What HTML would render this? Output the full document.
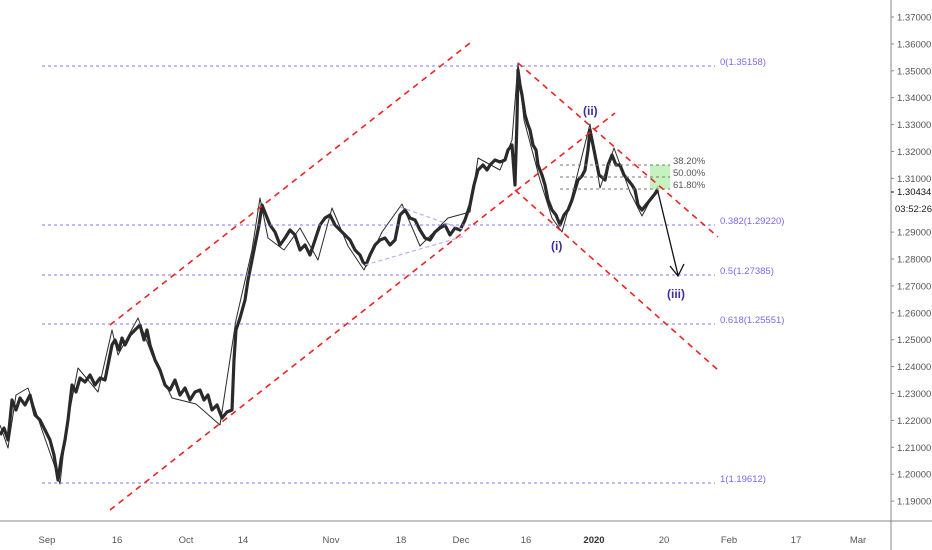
<!DOCTYPE html><html><head><meta charset="utf-8"><style>
body{margin:0;background:#fff;}
svg{display:block;font-family:"Liberation Sans",sans-serif;}
</style></head><body>
<svg width="932" height="550" viewBox="0 0 932 550" xmlns="http://www.w3.org/2000/svg">
<rect width="932" height="550" fill="#fff"/>
<!-- price series -->
<g fill="none" stroke="#2a2a2a" stroke-linejoin="round">
<polyline stroke-width="3.2" points="0,435 4,428 8,440 12,400 16,410 20,398 25,405 30,395 35,415 40,420 45,430 50,440 54,455 58,480 61,460 65,440 68,420 72,385 76,392 80,378 85,382 90,375 95,385 100,378 105,380 109,360 112,345 115,340 119,350 122,338 125,345 130,335 135,330 140,325 144,340 147,330 150,345 155,360 160,370 165,385 170,390 175,380 180,395 185,388 190,400 195,392 200,390 204,400 208,395 212,410 217,405 222,418 227,412 232,410 234,360 236,330 240,318 245,300 248,280 252,260 256,240 259,225 262,205 266,215 270,225 275,232 280,245 285,238 290,230 295,235 300,250 305,245 310,255 315,240 320,225 325,218 330,215 335,225 340,230 345,235 350,240 355,250 360,255 363,262 366,265 370,255 375,245 380,240 385,238 390,245 395,240 400,215 405,210 410,218 415,220 420,230 425,238 430,240 435,232 440,228 445,225 450,235 455,228 460,230 465,220 470,205 474,185 478,170 483,165 487,170 490,165 495,160 500,162 505,160 508,150 512,145 515,185 517,120 518,70 520,85 522,95 525,115 528,125 530,130 533,145 536,150 538,165 542,175 545,185 548,200 552,210 556,215 560,225 564,215 568,210 572,200 575,190 578,180 582,176 585,170 588,150 590,130 593,145 595,155 599,175 603,178 605,180 608,165 612,155 616,165 620,165 624,175 628,180 632,185 635,190 638,205 642,210 646,205 650,200 654,195 658,190"/>
<polyline stroke-width="1" points="0,425 8,448 16,395 28,388 42,430 56,470 60,484 66,430 78,368 98,392 112,330 118,355 138,318 152,355 172,398 196,404 220,425 236,320 252,250 260,198 268,238 284,250 300,228 318,260 332,208 348,246 364,270 382,232 402,204 420,246 448,218 470,212 478,158 500,170 512,140 518,63 524,120 540,180 552,218 562,232 572,196 590,124 600,188 614,148 630,192 642,216 658,186"/>
</g>
<!-- fib horizontals -->
<g stroke="#7b68ee" stroke-width="1" stroke-dasharray="3,3" opacity="0.9">
<line x1="42" y1="66" x2="715" y2="66"/>
<line x1="42" y1="225" x2="715" y2="225"/>
<line x1="42" y1="275" x2="715" y2="275"/>
<line x1="42" y1="324" x2="715" y2="324"/>
<line x1="42" y1="483" x2="715" y2="483"/>
</g>
<g fill="#7b68ee" font-size="9.5">
<text x="720" y="65">0(1.35158)</text>
<text x="720" y="224">0.382(1.29220)</text>
<text x="720" y="274">0.5(1.27385)</text>
<text x="720" y="323">0.618(1.25551)</text>
<text x="720" y="482">1(1.19612)</text>
</g>
<g stroke="#b9b0ee" stroke-width="1.2" stroke-dasharray="4,3">
<line x1="400" y1="207" x2="465" y2="230"/>
<line x1="365" y1="265" x2="465" y2="236"/>
</g>
<rect x="650" y="165" width="20" height="24" fill="#b7f0b0" opacity="0.8"/>
<g stroke="#777" stroke-width="1" stroke-dasharray="3,3">
<line x1="560" y1="165" x2="670" y2="165"/>
<line x1="560" y1="177" x2="670" y2="177"/>
<line x1="560" y1="189" x2="670" y2="189"/>
</g>
<g fill="#555" font-size="9.5">
<text x="673" y="164">38.20%</text>
<text x="673" y="176">50.00%</text>
<text x="673" y="188">61.80%</text>
</g>
<g stroke="#ee2222" stroke-width="1.6" stroke-dasharray="6,5">
<line x1="110" y1="325" x2="470" y2="43"/>
<line x1="110" y1="510" x2="615" y2="113"/>
<line x1="518" y1="63" x2="718" y2="237"/>
<line x1="515" y1="190" x2="718" y2="370"/>
</g>
<g stroke="#111" stroke-width="1.3" fill="none">
<line x1="658" y1="192" x2="678" y2="275"/>
<polyline points="670,266 678,276 684,264"/>
</g>
<g fill="#3b2f9e" font-size="12" font-weight="bold">
<text x="551" y="250">(i)</text>
<text x="583" y="115">(ii)</text>
<text x="667" y="298">(iii)</text>
</g>
<line x1="891" y1="0" x2="891" y2="550" stroke="#888"/>
<line x1="0" y1="521" x2="932" y2="521" stroke="#888"/>
<g font-size="9.5" fill="#555">
<text x="897" y="20.5">1.37000</text><text x="897" y="47.4">1.36000</text><text x="897" y="74.3">1.35000</text>
<text x="897" y="101.2">1.34000</text><text x="897" y="128.1">1.33000</text><text x="897" y="155">1.32000</text>
<text x="897" y="181.9">1.31000</text><text x="897" y="235.6">1.29000</text><text x="897" y="262.5">1.28000</text>
<text x="897" y="289.4">1.27000</text><text x="897" y="316.3">1.26000</text><text x="897" y="343.2">1.25000</text>
<text x="897" y="370.1">1.24000</text><text x="897" y="397">1.23000</text><text x="897" y="423.9">1.22000</text>
<text x="897" y="450.8">1.21000</text><text x="897" y="477.7">1.20000</text><text x="897" y="504.6">1.19000</text>
</g>
<g stroke="#888">
<line x1="891" x2="894" y1="17" y2="17"/><line x1="891" x2="894" y1="43.9" y2="43.9"/><line x1="891" x2="894" y1="70.8" y2="70.8"/>
<line x1="891" x2="894" y1="97.7" y2="97.7"/><line x1="891" x2="894" y1="124.6" y2="124.6"/><line x1="891" x2="894" y1="151.5" y2="151.5"/>
<line x1="891" x2="894" y1="178.4" y2="178.4"/><line x1="891" x2="894" y1="232.1" y2="232.1"/><line x1="891" x2="894" y1="259" y2="259"/>
<line x1="891" x2="894" y1="285.9" y2="285.9"/><line x1="891" x2="894" y1="312.8" y2="312.8"/><line x1="891" x2="894" y1="339.7" y2="339.7"/>
<line x1="891" x2="894" y1="366.6" y2="366.6"/><line x1="891" x2="894" y1="393.5" y2="393.5"/><line x1="891" x2="894" y1="420.4" y2="420.4"/>
<line x1="891" x2="894" y1="447.3" y2="447.3"/><line x1="891" x2="894" y1="474.2" y2="474.2"/><line x1="891" x2="894" y1="501.1" y2="501.1"/>
</g>
<text x="897" y="195" font-size="9.5" fill="#111">1.30434</text>
<line x1="891" y1="192" x2="894" y2="192" stroke="#111"/>
<text x="895" y="212" font-size="9.5" fill="#222">03:52:26</text>
<g font-size="9.5" fill="#555" text-anchor="middle">
<text x="47" y="543">Sep</text><text x="117" y="543">16</text><text x="186" y="543">Oct</text>
<text x="243" y="543">14</text><text x="331" y="543">Nov</text><text x="401" y="543">18</text>
<text x="461" y="543">Dec</text><text x="526" y="543">16</text>
<text x="594" y="543" font-weight="bold" fill="#333">2020</text>
<text x="664" y="543">20</text><text x="729" y="543">Feb</text><text x="796" y="543">17</text><text x="858" y="543">Mar</text>
</g>
</svg>
</body></html>
